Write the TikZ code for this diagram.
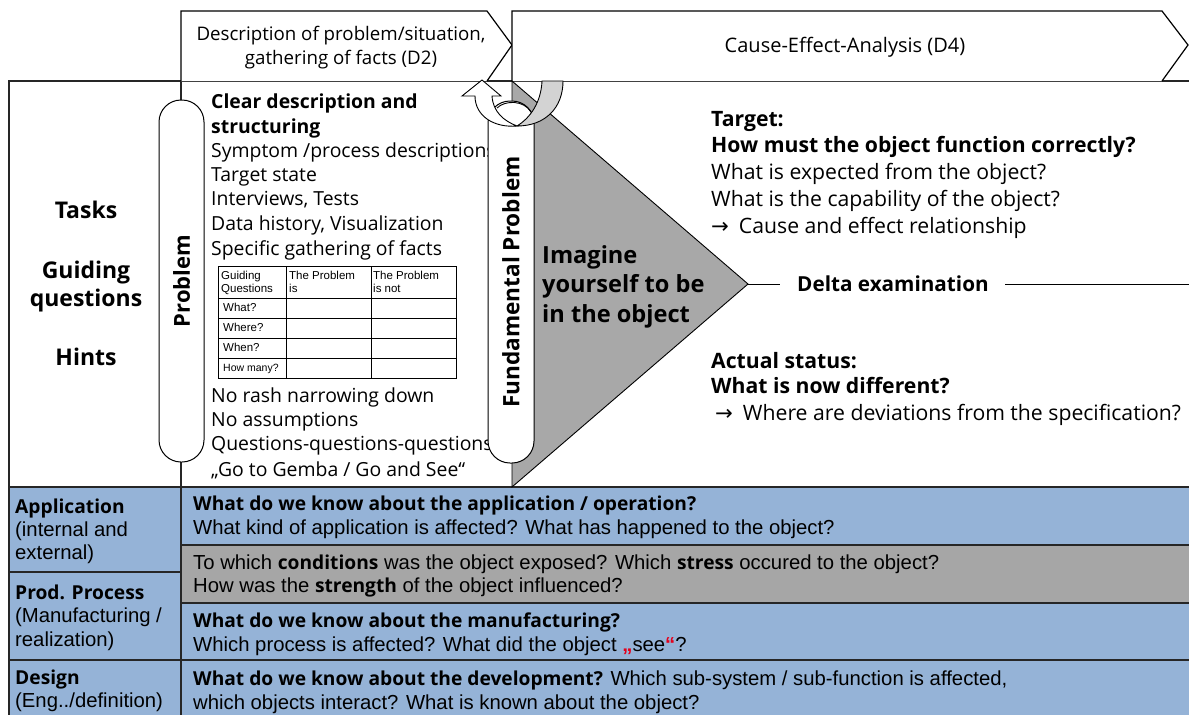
\documentclass[tikz,border=0pt]{standalone}
\usepackage{fontspec}
\setmainfont{Open Sans}
\newfontfamily\arialf{Liberation Sans}
\newfontfamily\djv{DejaVu Sans}
\definecolor{rowblue}{HTML}{95B3D7}
\definecolor{rowgray}{HTML}{A6A6A6}
\definecolor{trigray}{HTML}{A8A8A8}
\definecolor{ringgray}{HTML}{D3D3D3}
\definecolor{quotered}{HTML}{E3001B}
\newcommand{\rarrow}{{\djv\symbol{"2192}}\hspace{10pt}}
\tikzset{
  frameline/.style={draw=black!85, line width=1.6pt},
  thinline/.style={draw=black, line width=0.9pt},
  pillbox/.style={draw=black, line width=1pt, fill=white, rounded corners=22pt, rotate=90, inner sep=0pt},
  head/.style={inner sep=0pt, anchor=base, font=\fontsize{18.7}{20}\selectfont},
  ptxt/.style={inner sep=0pt, anchor=base west, font=\fontsize{19.4}{20}\selectfont},
  pbold/.style={ptxt, font=\bfseries\fontsize{19.4}{20}\selectfont},
  rtxt/.style={inner sep=0pt, anchor=base west, font=\fontsize{21.2}{22}\selectfont},
  rbold/.style={rtxt, font=\bfseries\fontsize{21.2}{22}\selectfont},
  ltxt/.style={inner sep=0pt, anchor=base, font=\bfseries\fontsize{23}{22}\selectfont},
  itxt/.style={inner sep=0pt, anchor=base west, font=\bfseries\fontsize{23.6}{22}\selectfont},
  btxt/.style={inner sep=0pt, anchor=base west, font=\arialf\fontsize{20.3}{22}\selectfont},
  bbold/.style={inner sep=0pt, anchor=base west, font=\bfseries\fontsize{19.2}{22}\selectfont},
  ttxt/.style={inner sep=0pt, anchor=base west, font=\arialf\fontsize{11.5}{12}\selectfont},
}
\newcommand{\bb}[1]{{\rmfamily\bfseries\fontsize{19.2}{22}\selectfont #1}}
\begin{document}
\begin{tikzpicture}[x=1pt,y=-1pt]
\useasboundingbox (0,0) rectangle (1189,715);
\fill[white] (0,0) rectangle (1189,715);

% bottom table backgrounds
\filldraw[fill=rowblue, frameline] (9,487) rectangle (181,572);
\filldraw[fill=rowblue, frameline] (9,572) rectangle (181,660);
\filldraw[fill=rowblue, frameline] (9,660) rectangle (181,720);
\filldraw[fill=rowblue, frameline] (181,487) rectangle (1195,545);
\filldraw[fill=rowgray, frameline] (181,545) rectangle (1195,603);
\filldraw[fill=rowblue, frameline] (181,603) rectangle (1195,660);
\filldraw[fill=rowblue, frameline] (181,660) rectangle (1195,720);

% frame of the upper part
\draw[frameline] (9,487) -- (9,81) -- (1195,81);
\draw[frameline] (181,81) -- (181,487);

% chevrons
\draw[line width=1.2pt, fill=white] (181,81) -- (181,11) -- (487,11) -- (512,45) -- (487,81);
\draw[line width=1.2pt, fill=white] (512,81) -- (512,11) -- (1162,11) -- (1188,45) -- (1162,81);
\node[head] (d2a) at (341,40) {Description of problem/situation,};
\node[head] (d2b) at (341,64) {gathering of facts (D2)};
\node[head, font=\fontsize{20}{20}\selectfont] (d4) at (845,52) {Cause-Effect-Analysis (D4)};

% triangle
\draw[thinline, fill=trigray] (512,81) -- (748,284) coordinate (tip) -- (512,487) -- cycle;

% left labels
\node[ltxt] (tasks) at (86,218) {Tasks};
\node[ltxt] (guid1) at (86,278) {Guiding};
\node[ltxt] (guid2) at (86,306) {questions};
\node[ltxt] (hints) at (86,365) {Hints};

% problem column text
\node[pbold] (p1) at (211,108) {Clear description and};
\node[pbold] (p2) at (211,133) {structuring};
\node[ptxt] (p3) at (211,157) {Symptom /process descriptions};
\node[ptxt] (p4) at (211,181) {Target state};
\node[ptxt] (p5) at (211,205) {Interviews, Tests};
\node[ptxt] (p6) at (211,230) {Data history, Visualization};
\node[ptxt] (p7) at (211,255) {Specific gathering of facts};
\node[ptxt] (p8) at (211,402) {No rash narrowing down};
\node[ptxt] (p9) at (211,426) {No assumptions};
\node[ptxt] (p10) at (211,450) {Questions-questions-questions};
\node[ptxt] (p11) at (211,476) {„Go to Gemba / Go and See“};

% is / is-not table
\draw[line width=0.8pt] (218,266) rectangle (456,378);
\foreach \yy in {298,318,338,358} \draw[line width=0.8pt] (218,\yy) -- (456,\yy);
\foreach \xx in {286,371} \draw[line width=0.8pt] (\xx,266) -- (\xx,378);
\node[ttxt] (t1) at (221,279) {Guiding};
\node[ttxt] (t2) at (221,292) {Questions};
\node[ttxt] (t3) at (289,279) {The Problem};
\node[ttxt] (t4) at (289,292) {is};
\node[ttxt] (t5) at (373,279) {The Problem};
\node[ttxt] (t6) at (373,292) {is not};
\node[ttxt] (t7) at (223,311) {What?};
\node[ttxt] (t8) at (223,331) {Where?};
\node[ttxt] (t9) at (223,351) {When?};
\node[ttxt, font=\arialf\fontsize{10.5}{12}\selectfont] (t10) at (223,371) {How many?};

% pills
\node[pillbox, minimum width=362pt, minimum height=45pt, font=\bfseries\fontsize{22}{22}\selectfont] (prob) at (181.5,281) {Problem};
\node[pillbox, minimum width=362pt, minimum height=46pt, font=\bfseries\fontsize{22.6}{22}\selectfont] (fund) at (511,282) {Fundamental Problem};

% circular arrow
\draw[line width=0.9pt, fill=ringgray] (542,81) -- (563,81) .. controls (563,108) and (545,126) .. (517,126) .. controls (530,118) and (541,103) .. (542,81) -- cycle;
\draw[line width=0.9pt, fill=white] (482,80) -- (501,96) -- (492,96) .. controls (493,112) and (504,121) .. (517,126) .. controls (494,128) and (475,116) .. (475,96) -- (462,96) -- cycle;
\draw[line width=0.9pt] (497,108) .. controls (505,100) and (524,100) .. (531,112);

% imagine
\node[itxt] (im1) at (542,263) {Imagine};
\node[itxt] (im2) at (542,292) {yourself to be};
\node[itxt] (im3) at (542,322) {in the object};

% right side
\node[rbold] (r1) at (711,126) {Target:};
\node[rbold] (r2) at (711,152) {How must the object function correctly?};
\node[rtxt] (r3) at (711,179) {What is expected from the object?};
\node[rtxt] (r4) at (711,206) {What is the capability of the object?};
\node[rtxt] (r5) at (711,233) {\rarrow Cause and effect relationship};
\node[rbold, font=\bfseries\fontsize{20.7}{22}\selectfont] (delta) at (797,291) {Delta examination};
\node[rbold] (r6) at (711,368) {Actual status:};
\node[rbold] (r7) at (711,393) {What is now different?};
\node[rtxt] (r8) at (715,420) {\rarrow Where are deviations from the specification?};
\coordinate (dl) at (780,284);
\coordinate (dr) at (1005,284);
\coordinate (dend) at (1195,284);
\draw[line width=1pt] (tip) -- (dl);
\draw[line width=1pt] (dr) -- (dend);

% bottom left labels
\node[bbold] (a1) at (15,513) {Application};
\node[btxt] (a2) at (15,536) {(internal and};
\node[btxt] (a3) at (15,559) {external)};
\node[bbold] (b1) at (15,599) {Prod. Process};
\node[btxt] (b2) at (15,622) {(Manufacturing /};
\node[btxt] (b3) at (15,646) {realization)};
\node[bbold] (c1) at (15,684) {Design};
\node[btxt] (c2) at (15,707) {(Eng../definition)};

% bottom right rows
\node[bbold] (q1) at (193,510) {What do we know about the application / operation?};
\node[btxt] (q2) at (193,534) {What kind of application is affected? What has happened to the object?};
\node[btxt] (q3) at (193,569) {To which \bb{conditions} was the object exposed? Which \bb{stress} occured to the object?};
\node[btxt] (q4) at (193,592) {How was the \bb{strength} of the object influenced?};
\node[bbold] (q5) at (193,627) {What do we know about the manufacturing?};
\node[btxt] (q6) at (193,651) {Which process is affected? What did the object \textcolor{quotered}{\bfseries„}see\textcolor{quotered}{\bfseries“}?};
\node[btxt] (q7) at (193,685) {\bb{What do we know about the development?} Which sub-system / sub-function is affected,};
\node[btxt] (q8) at (193,709) {which objects interact? What is known about the object?};
\end{tikzpicture}
\end{document}
